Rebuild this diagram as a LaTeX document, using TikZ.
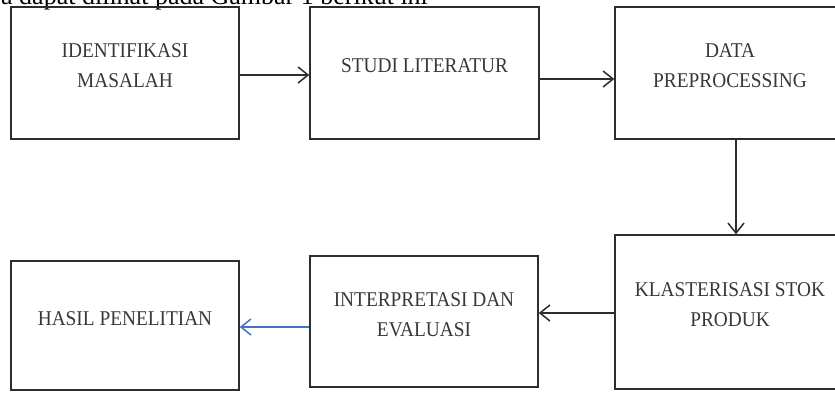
\documentclass[tikz,border=0pt]{standalone}
\usepackage{fontspec}
\setmainfont{Liberation Serif}
\newfontfamily\stagefont[FakeStretch=0.92]{Liberation Serif}
\usetikzlibrary{arrows.meta}
\definecolor{flowline}{RGB}{45,45,45}
\definecolor{flowtext}{RGB}{55,55,55}
\definecolor{flowblue}{RGB}{68,114,196}

\begin{document}
\begin{tikzpicture}[x=1pt, y=-1pt,
      stage/.style={draw=flowline, line width=1.5pt, minimum width=228pt, minimum height=132pt, inner sep=0pt},
      stagetext/.style={align=center, inner sep=0pt, yshift=7pt, text=flowtext, font=\stagefont\fontsize{21}{30}\selectfont},
      flow/.style={draw=flowline, line width=1.5pt, -{Straight Barb[length=10pt, width=16pt, line width=1.5pt]}}
    ]
      \useasboundingbox (0,0) rectangle (835,392);
      \clip (0,0) rectangle (835,392);

      \node[anchor=base west, inner sep=0pt, font=\fontsize{26}{30}\selectfont] (intro) at (1,4) {a dapat dilihat pada Gambar 1 berikut ini};

      % upper row
      \node[stage, label={[stagetext]center:{IDENTIFIKASI\\MASALAH}}] (ident) at (125,73) {};
      \node[stage, minimum width=229pt, label={[stagetext]center:{STUDI LITERATUR}}] (studi) at (424.5,73) {};
      \node[stage, minimum width=230pt, label={[stagetext]center:{DATA\\PREPROCESSING}}] (data) at (730,73) {};

      % lower row
      \node[stage, minimum width=230pt, minimum height=154pt, label={[stagetext]center:{KLASTERISASI STOK\\PRODUK}}] (klas) at (730,312) {};
      \node[stage, minimum height=131pt, label={[stagetext]center:{INTERPRETASI DAN\\EVALUASI}}] (interp) at (424,321.5) {};
      \node[stage, minimum height=129pt, label={[stagetext]center:{HASIL PENELITIAN}}] (hasil) at (125,325.5) {};

      \draw[flow] ([yshift=-2pt]ident.east) -- ([yshift=-2pt]studi.west);
      \draw[flow] ([yshift=-6pt]studi.east) -- ([yshift=-6pt]data.west);
      \draw[flow] ([xshift=6pt]data.south) -- ([xshift=6pt]klas.north);
      \draw[flow] ([yshift=-1pt]klas.west) -- ([yshift=8.5pt]interp.east);
      \draw[flow, draw=flowblue, line width=1.1pt] ([yshift=-5.5pt]interp.west) -- ([yshift=-1.5pt]hasil.east);
    \end{tikzpicture}
\end{document}
